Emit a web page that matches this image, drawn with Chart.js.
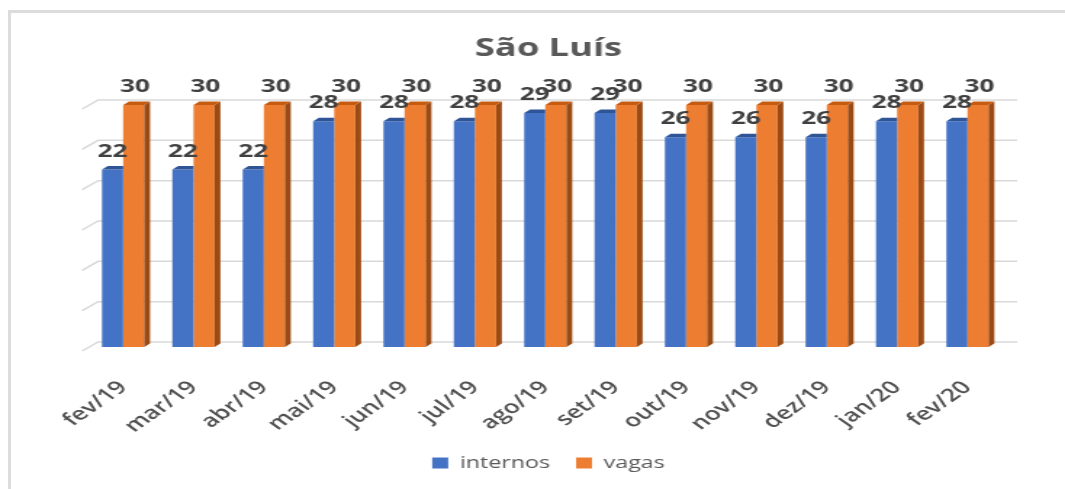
<!DOCTYPE html>
<html><head><meta charset="utf-8">
<script src="https://cdn.jsdelivr.net/npm/chart.js@4.4.0/dist/chart.umd.min.js"></script>
<style>
html,body{margin:0;padding:0;background:#fff;overflow:hidden;width:1065px;height:489px}
#frame{position:absolute;left:8px;top:10px;width:1070px;height:490px;border-left:3px solid #dcdcdc;border-top:3px solid #dcdcdc}
#wrap{position:absolute;left:0;top:0;width:734px;height:489px;transform:scaleX(1.451);transform-origin:0 0}
canvas{display:block}
</style></head>
<body>
<div id="frame"></div>
<div id="wrap"><canvas id="c" width="734" height="489" style="width:734px;height:489px"></canvas></div>
<script>
const categories = ['fev/19','mar/19','abr/19','mai/19','jun/19','jul/19','ago/19','set/19','out/19','nov/19','dez/19','jan/20','fev/20'];
const internos = [22,22,22,28,28,28,29,29,26,26,26,28,28];
const vagas = [30,30,30,30,30,30,30,30,30,30,30,30,30];
const yTicks = [0,5,10,15,20,25,30];

const textColor = '#595959';
const faceColors = [{top:'#2F5597', side:null}, {top:'#C55A11', side:'#9C4A14'}];

const grid3d = {
  id: 'grid3d',
  beforeDatasetsDraw(chart) {
    const {ctx, chartArea: a, scales: {y}} = chart;
    ctx.save();
    ctx.strokeStyle = '#d9d9d9';
    ctx.lineWidth = 1.5;
    yTicks.forEach(v => {
      const py = y.getPixelForValue(v);
      ctx.beginPath();
      ctx.moveTo(a.left - 4, py + 4);
      ctx.lineTo(a.left + 7, py - 5);
      ctx.lineTo(a.right + 10, py - 5);
      ctx.stroke();
    });
    ctx.restore();
  }
};

const bars3d = {
  id: 'bars3d',
  afterDatasetsDraw(chart) {
    const ctx = chart.ctx;
    const dx = 4, dy = 3.5;
    ctx.save();
    chart.data.datasets.forEach((ds, i) => {
      const meta = chart.getDatasetMeta(i);
      const fc = faceColors[i];
      meta.data.forEach(bar => {
        const {x, y, base, width} = bar.getProps(['x','y','base','width'], true);
        const l = x - width / 2, r = x + width / 2;
        if (fc.side) {
          ctx.fillStyle = fc.side;
          ctx.beginPath();
          ctx.moveTo(r, y); ctx.lineTo(r + dx, y - dy); ctx.lineTo(r + dx, base - dy); ctx.lineTo(r, base);
          ctx.closePath(); ctx.fill();
        }
        ctx.fillStyle = fc.top;
        ctx.beginPath();
        ctx.moveTo(l, y); ctx.lineTo(l + dx, y - dy);
        ctx.lineTo(fc.side ? r + dx : r, y - dy); ctx.lineTo(r, y);
        ctx.closePath(); ctx.fill();
      });
    });
    ctx.font = 'bold 18px "Open Sans"';
    ctx.fillStyle = '#404040';
    ctx.textAlign = 'center';
    ctx.textBaseline = 'alphabetic';
    chart.data.datasets.forEach((ds, i) => {
      const meta = chart.getDatasetMeta(i);
      meta.data.forEach((bar, j) => {
        const {x, y} = bar.getProps(['x','y'], true);
        ctx.fillText(String(ds.data[j]), x + (i === 1 ? 1 : 0), y - 13);
      });
    });
    ctx.restore();
  }
};

new Chart(document.getElementById('c'), {
  type: 'bar',
  data: {
    labels: categories,
    datasets: [
      {label: 'internos', data: internos, backgroundColor: '#4472C4', categoryPercentage: 0.6, barPercentage: 1},
      {label: 'vagas', data: vagas, backgroundColor: '#ED7D31', categoryPercentage: 0.6, barPercentage: 1}
    ]
  },
  options: {
    responsive: false,
    animation: false,
    devicePixelRatio: 1,
    layout: {padding: {left: 22, right: 0, top: 0, bottom: 8}},
    plugins: {
      title: {display: true, text: 'São Luís', color: textColor,
              font: {family: '"Open Sans"', size: 25, weight: 'bold'},
              padding: {top: 34, bottom: 41}},
      legend: {display: true, position: 'bottom',
               labels: {color: textColor, font: {family: '"Open Sans"', size: 16},
                        boxWidth: 11, boxHeight: 11, padding: 18}},
      tooltip: {enabled: false}
    },
    scales: {
      x: {
        grid: {display: false, drawTicks: false},
        border: {display: false},
        ticks: {color: '#505050', font: {family: '"Open Sans"', size: 18, weight: '600'},
                maxRotation: 45, minRotation: 45, padding: 30, autoSkip: false},
        afterFit(s) {
          const lg = s.chart.legend;
          const lh = lg ? lg.height : 0;
          s.height = s.chart.height - 8 - lh - 347;
        }
      },
      y: {
        min: 0, max: 30,
        ticks: {display: false, stepSize: 5},
        grid: {display: false},
        border: {display: false},
        afterFit(s) { s.width = 38.6; }
      },
      yR: {
        type: 'linear', position: 'right', display: true,
        ticks: {display: false}, grid: {display: false}, border: {display: false},
        afterFit(s) { s.width = 43; }
      }
    }
  },
  plugins: [grid3d, bars3d]
});
</script>
</body></html>
